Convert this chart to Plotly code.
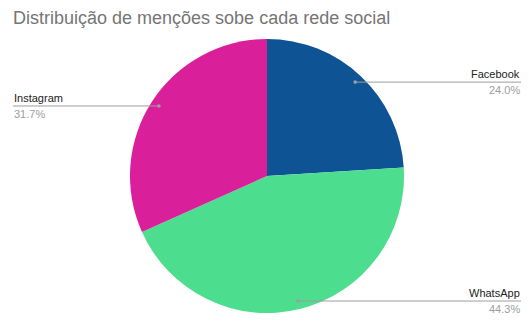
import math
import plotly.graph_objects as go

labels = ["Facebook", "WhatsApp", "Instagram"]
values = [24.0, 44.3, 31.7]
colors = ["#0E5394", "#4CDD8E", "#D91F9A"]

W, H = 529, 325
# pie placement in pixels
cx, cy, R = 267, 176, 137
dom_x = [(cx - R) / W, (cx + R) / W]
dom_y = [1 - (cy + R) / H, 1 - (cy - R) / H]

fig = go.Figure(go.Pie(
    labels=labels, values=values, sort=False, direction="clockwise", rotation=0,
    marker=dict(colors=colors, line=dict(width=0)),
    textinfo="none", hoverinfo="label+percent", showlegend=False,
    domain=dict(x=dom_x, y=dom_y),
))

total = sum(values)
shapes, annos = [], []
acc = 0.0
left_x, right_x = 13, 521
for lab, v in zip(labels, values):
    mid = (acc + v / 2) / total * 2 * math.pi
    acc += v
    r = 0.94 * R
    px = cx + r * math.sin(mid)
    py = cy - r * math.cos(mid)
    right = math.sin(mid) > 0
    ex = right_x if right else left_x
    shapes.append(dict(type="line", xref="paper", yref="paper",
                       x0=px / W, x1=ex / W, y0=1 - py / H, y1=1 - py / H,
                       line=dict(color="#9E9E9E", width=1)))
    shapes.append(dict(type="circle", xref="paper", yref="paper",
                       x0=(px - 1.8) / W, x1=(px + 1.8) / W,
                       y0=1 - (py + 1.8) / H, y1=1 - (py - 1.8) / H,
                       line=dict(width=0), fillcolor="#9E9E9E"))
    anchor = "right" if right else "left"
    annos.append(dict(xref="paper", yref="paper", x=ex / W, y=1 - (py - 1) / H,
                      text=lab, showarrow=False, xanchor=anchor, yanchor="bottom",
                      font=dict(family="Liberation Sans, Arial", size=11, color="#222222"),
                      borderpad=0))
    annos.append(dict(xref="paper", yref="paper", x=ex / W, y=1 - (py + 1) / H,
                      text=f"{v / total * 100:.1f}%", showarrow=False, xanchor=anchor, yanchor="top",
                      font=dict(family="Liberation Sans, Arial", size=11, color="#9E9E9E"),
                      borderpad=0))

fig.update_layout(
    width=W, height=H, margin=dict(l=0, r=0, t=0, b=0),
    paper_bgcolor="white", plot_bgcolor="white",
    title=dict(text="Distribuição de menções sobe cada rede social",
               x=13 / W, xanchor="left", xref="container",
               y=1 - 18 / H, yanchor="middle", yref="container",
               font=dict(family="Liberation Sans, Arial", size=18, color="#757575")),
    shapes=shapes, annotations=annos,
)

fig.write_html("out.html")
